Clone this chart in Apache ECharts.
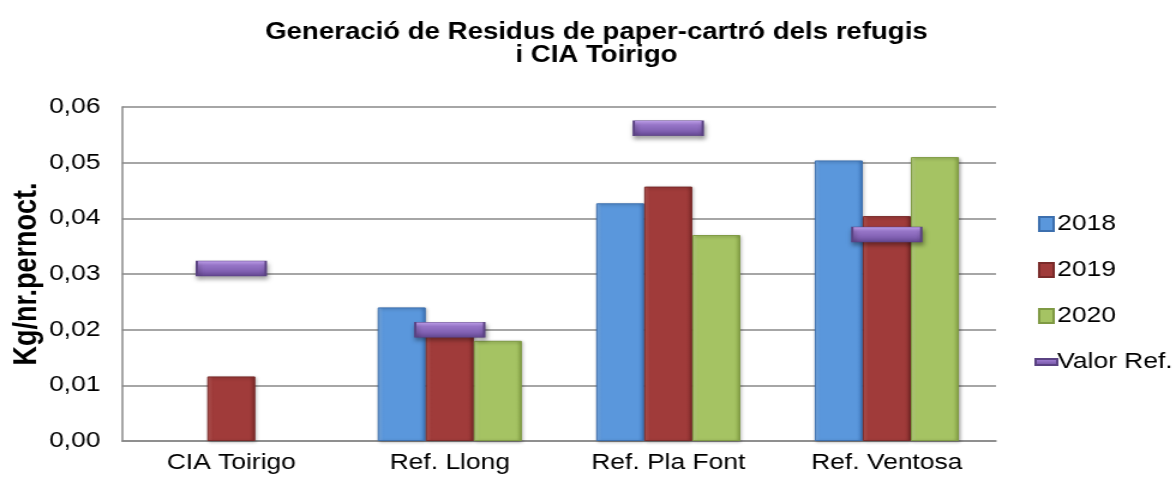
<!DOCTYPE html>
<html>
<head>
<meta charset="utf-8">
<script src="https://cdn.jsdelivr.net/npm/echarts@6/dist/echarts.min.js"></script>
<style>
  html, body { margin: 0; padding: 0; background: #fff; overflow: hidden; }
  /* el gràfic original està estirat en horitzontal (~1.2x) */
  #chart { width: 980px; height: 485px; transform: scaleX(1.2); transform-origin: 0 0; }
</style>
</head>
<body>
<div id="chart"></div>
<script>
// dades
var categories = ['CIA Toirigo', 'Ref. Llong', 'Ref. Pla Font', 'Ref. Ventosa'];
var years = ['2018', '2019', '2020'];
var vals2018 = ['-', 0.0240, 0.0427, 0.0504];
var vals2019 = [0.0116, 0.0195, 0.0457, 0.0404];
var vals2020 = ['-', 0.0180, 0.0370, 0.0510];
var valorRef = [0.0310, 0.0200, 0.0562, 0.0371];
var yTicks = [0, 0.01, 0.02, 0.03, 0.04, 0.05, 0.06];

var font = 'Liberation Sans, Arial, sans-serif';

// color amb una mica de bisell
function barColor(light, mid, dark) {
    return new echarts.graphic.LinearGradient(0, 0, 1, 0, [
        { offset: 0, color: light },
        { offset: 0.12, color: mid },
        { offset: 0.88, color: mid },
        { offset: 1, color: dark }
    ]);
}

function barSeries(name, data, light, mid, dark, border) {
    return {
        name: name,
        type: 'bar',
        data: data,
        barGap: '0%',
        barCategoryGap: '34%',
        itemStyle: {
            color: barColor(light, mid, dark),
            borderColor: border,
            borderWidth: 1,
            shadowColor: 'rgba(0,0,0,0.3)',
            shadowBlur: 3,
            shadowOffsetX: 1,
            shadowOffsetY: 1
        }
    };
}

var option = {
    animation: false,
    backgroundColor: '#fff',
    textStyle: { fontFamily: font },
    title: {
        text: 'Generació de Residus de paper-cartró dels refugis\ni CIA Toirigo',
        left: 492,
        top: 16,
        textAlign: 'center',
        textStyle: {
            fontFamily: font,
            fontSize: 23,
            fontWeight: 'bold',
            color: '#000',
            lineHeight: 23
        }
    },
    legend: {
        orient: 'vertical',
        left: 857,
        top: 208,
        itemGap: 24,
        itemWidth: 18,
        itemHeight: 14,
        textStyle: { fontFamily: font, fontSize: 22, color: '#000', padding: [0, 0, 0, -5] },
        data: [
            { name: '2018', icon: 'path://M0,0L12,0L12,14L0,14Z' },
            { name: '2019', icon: 'path://M0,0L12,0L12,14L0,14Z' },
            { name: '2020', icon: 'path://M0,0L12,0L12,14L0,14Z' },
            { name: 'Valor Ref.', icon: 'path://M0,0L18,0L18,6L0,6Z' }
        ]
    },
    grid: { left: 101.7, right: 150, top: 107, bottom: 44, containLabel: false, outerBoundsMode: 'none' },
    xAxis: {
        type: 'category',
        data: categories,
        axisLine: { lineStyle: { color: '#888', width: 1.5 } },
        axisTick: { show: false },
        axisLabel: { fontFamily: font, fontSize: 22, color: '#000', margin: 11 }
    },
    yAxis: {
        type: 'value',
        min: yTicks[0],
        max: yTicks[yTicks.length - 1],
        interval: 0.01,
        name: 'Kg/nr.pernoct.',
        nameLocation: 'middle',
        nameGap: 66,
        nameMoveOverlap: false,
        nameTextStyle: { fontFamily: font, fontSize: 27, fontWeight: 'bold', color: '#000' },
        axisLine: { show: true, lineStyle: { color: '#888', width: 1.5 } },
        axisTick: { show: false },
        splitLine: { lineStyle: { color: '#888', width: 1.5 } },
        axisLabel: {
            fontFamily: font, fontSize: 22, color: '#000', margin: 18,
            formatter: function (v) { return v.toFixed(2).replace('.', ','); }
        }
    },
    series: [
        barSeries(years[0], vals2018, '#7fb3ef', '#5a97dc', '#3f78bd', '#3c6fae'),
        barSeries(years[1], vals2019, '#bf5a58', '#a03b3a', '#7d2a29', '#7a2b2a'),
        barSeries(years[2], vals2020, '#c2db8a', '#a5c363', '#86a345', '#7f9a44'),
        {
            name: 'Valor Ref.',
            type: 'scatter',
            data: valorRef,
            symbol: 'rect',
            symbolSize: [57.5, 15],
            z: 5,
            itemStyle: {
                color: new echarts.graphic.LinearGradient(0, 0, 0, 1, [
                    { offset: 0, color: '#c3a3ef' },
                    { offset: 0.3, color: '#9a78cc' },
                    { offset: 0.7, color: '#7f5fb0' },
                    { offset: 1, color: '#634790' }
                ]),
                borderColor: '#5a4282',
                borderWidth: 1,
                opacity: 1,
                shadowColor: 'rgba(0,0,0,0.35)',
                shadowBlur: 4,
                shadowOffsetX: 1,
                shadowOffsetY: 3
            }
        }
    ]
};

var chart = echarts.init(document.getElementById('chart'));
chart.setOption(option);
</script>
</body>
</html>
